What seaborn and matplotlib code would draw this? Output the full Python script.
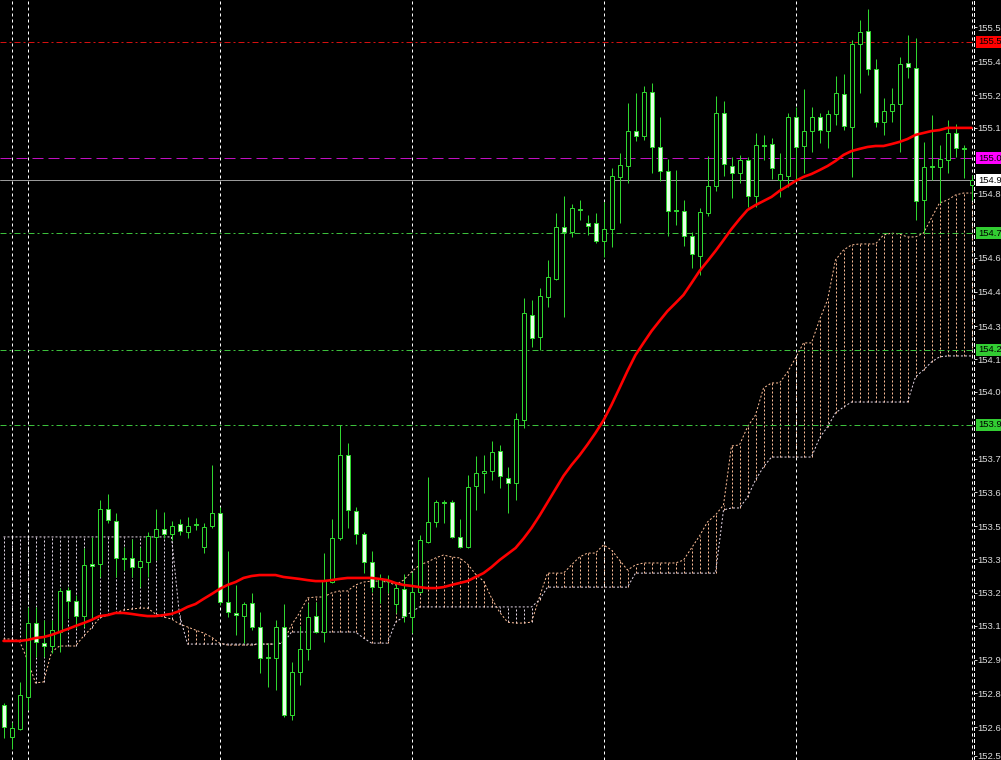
import numpy as np
import pandas as pd
import matplotlib
matplotlib.use("Agg")
import matplotlib.pyplot as plt
import matplotlib.transforms as mtransforms
import seaborn as sns

# ------------------------------------------------------------
# prices, one value per bar, left to right
# ------------------------------------------------------------
opens = [
    152.760, 152.628, 152.661, 152.794, 153.100, 153.017, 153.005, 153.063, 153.237, 153.191,
    153.129, 153.345, 153.345, 153.573, 153.523, 153.370, 153.370, 153.332, 153.353, 153.457,
    153.490, 153.469, 153.511, 153.477, 153.511, 153.415, 153.502, 153.556, 153.187, 153.142,
    153.129, 153.183, 153.084, 152.959, 152.955, 153.084, 152.719, 152.897, 152.993, 153.129,
    153.063, 153.270, 153.453, 153.796, 153.564, 153.469, 153.353, 153.249, 153.278, 153.179,
    153.241, 153.125, 153.229, 153.436, 153.519, 153.602, 153.602, 153.457, 153.415, 153.668,
    153.722, 153.730, 153.813, 153.701, 153.681, 153.942, 154.377, 154.285, 154.451, 154.526,
    154.741, 154.721, 154.816, 154.758, 154.758, 154.683, 154.733, 154.949, 154.994, 155.139,
    155.118, 155.301, 155.073, 154.973, 154.812, 154.808, 154.704, 154.621, 154.799, 154.911,
    155.214, 154.994, 154.965, 155.019, 154.870, 155.081, 155.085, 154.936, 154.953, 155.197,
    155.077, 155.139, 155.197, 155.139, 155.210, 155.292, 155.156, 155.500, 155.554, 155.396,
    155.176, 155.222, 155.251, 155.421, 155.400, 154.853, 154.994, 154.990, 155.019, 155.131,
    155.069, 154.915,
]
highs = [
    152.769, 152.690, 152.856, 153.167, 153.167, 153.113, 153.113, 153.245, 153.249, 153.216,
    153.411, 153.457, 153.610, 153.635, 153.556, 153.415, 153.448, 153.415, 153.477, 153.573,
    153.560, 153.523, 153.531, 153.540, 153.535, 153.515, 153.755, 153.581, 153.399, 153.258,
    153.187, 153.225, 153.146, 153.017, 153.113, 153.179, 152.939, 153.088, 153.183, 153.187,
    153.390, 153.531, 153.921, 153.846, 153.581, 153.477, 153.399, 153.303, 153.299, 153.266,
    153.303, 153.312, 153.465, 153.705, 153.610, 153.610, 153.610, 153.531, 153.714, 153.792,
    153.796, 153.854, 153.838, 153.747, 153.971, 154.447, 154.439, 154.489, 154.605, 154.799,
    154.870, 154.837, 154.853, 154.791, 154.799, 154.845, 154.986, 155.048, 155.255, 155.297,
    155.326, 155.338, 155.197, 155.023, 154.977, 154.853, 154.721, 154.820, 155.036, 155.284,
    155.263, 155.031, 155.040, 155.031, 155.131, 155.123, 155.110, 155.048, 155.214, 155.239,
    155.313, 155.239, 155.214, 155.226, 155.367, 155.375, 155.516, 155.599, 155.645, 155.438,
    155.276, 155.317, 155.446, 155.537, 155.525, 155.094, 155.205, 155.081, 155.185, 155.168,
    155.081, 154.957,
]
lows = [
    152.624, 152.578, 152.657, 152.740, 152.959, 152.959, 152.976, 152.980, 153.121, 153.080,
    153.084, 153.121, 153.291, 153.515, 153.291, 153.320, 153.291, 153.249, 153.291, 153.361,
    153.453, 153.444, 153.465, 153.453, 153.486, 153.390, 153.494, 153.175, 153.125, 153.051,
    153.017, 153.071, 152.893, 152.835, 152.823, 152.711, 152.698, 152.843, 152.947, 153.059,
    153.022, 153.266, 153.444, 153.494, 153.428, 153.307, 153.229, 153.183, 153.225, 153.142,
    153.104, 153.059, 153.225, 153.432, 153.498, 153.515, 153.453, 153.411, 153.411, 153.569,
    153.639, 153.693, 153.660, 153.556, 153.610, 153.908, 154.244, 154.232, 154.410, 154.522,
    154.368, 154.700, 154.770, 154.708, 154.675, 154.617, 154.658, 154.758, 154.924, 155.098,
    155.102, 154.965, 154.932, 154.704, 154.750, 154.663, 154.571, 154.542, 154.787, 154.891,
    154.953, 154.861, 154.924, 154.824, 154.824, 155.019, 154.940, 154.866, 154.907, 154.928,
    154.965, 155.052, 155.089, 155.069, 155.164, 155.143, 154.949, 155.297, 155.371, 155.156,
    155.123, 155.176, 155.052, 155.359, 154.770, 154.716, 154.936, 154.841, 154.965, 155.031,
    154.944, 154.853,
]
closes = [
    152.669, 152.665, 152.802, 153.100, 153.022, 153.005, 153.071, 153.233, 153.191, 153.129,
    153.341, 153.337, 153.573, 153.527, 153.370, 153.366, 153.332, 153.357, 153.461, 153.490,
    153.469, 153.502, 153.482, 153.502, 153.506, 153.498, 153.556, 153.187, 153.146, 153.133,
    153.179, 153.084, 152.955, 152.955, 153.084, 152.719, 152.897, 152.993, 153.125, 153.063,
    153.274, 153.453, 153.796, 153.569, 153.469, 153.353, 153.249, 153.287, 153.274, 153.245,
    153.129, 153.229, 153.444, 153.519, 153.602, 153.598, 153.457, 153.415, 153.664, 153.722,
    153.730, 153.809, 153.709, 153.681, 153.946, 154.385, 154.281, 154.455, 154.534, 154.741,
    154.721, 154.820, 154.812, 154.745, 154.683, 154.733, 154.953, 154.998, 155.139, 155.118,
    155.301, 155.073, 154.973, 154.808, 154.808, 154.704, 154.629, 154.803, 154.911, 155.214,
    155.002, 154.965, 155.019, 154.870, 155.081, 155.077, 154.986, 154.961, 155.197, 155.073,
    155.139, 155.197, 155.143, 155.210, 155.297, 155.160, 155.500, 155.549, 155.396, 155.176,
    155.222, 155.251, 155.417, 155.404, 154.849, 154.990, 154.990, 155.023, 155.131, 155.069,
    155.065, 154.936,
]
# red moving average
ma_line = [
    153.026, 153.026, 153.026, 153.030, 153.038, 153.042, 153.051, 153.063, 153.075, 153.088,
    153.100, 153.113, 153.129, 153.133, 153.142, 153.142, 153.138, 153.133, 153.129, 153.129,
    153.133, 153.138, 153.150, 153.167, 153.179, 153.200, 153.220, 153.241, 153.258, 153.270,
    153.287, 153.295, 153.299, 153.299, 153.299, 153.291, 153.287, 153.283, 153.278, 153.274,
    153.274, 153.278, 153.283, 153.287, 153.287, 153.287, 153.287, 153.283, 153.278, 153.266,
    153.258, 153.254, 153.249, 153.245, 153.245, 153.249, 153.258, 153.266, 153.274, 153.291,
    153.307, 153.332, 153.361, 153.386, 153.411, 153.450, 153.494, 153.545, 153.600, 153.655,
    153.710, 153.755, 153.795, 153.840, 153.888, 153.940, 154.004, 154.074, 154.145, 154.211,
    154.261, 154.310, 154.352, 154.393, 154.426, 154.460, 154.509, 154.559, 154.600, 154.642,
    154.687, 154.733, 154.774, 154.812, 154.832, 154.849, 154.866, 154.891, 154.911, 154.932,
    154.949, 154.961, 154.977, 154.994, 155.015, 155.040, 155.056, 155.065, 155.073, 155.077,
    155.077, 155.085, 155.094, 155.106, 155.123, 155.131, 155.139, 155.143, 155.152, 155.152,
    155.152, 155.152,
]
# ichimoku cloud edges
span_a = [
    153.034, 153.034, 153.026, 152.947, 152.852, 152.856, 152.980, 153.005, 153.005, 153.005,
    153.046, 153.080, 153.121, 153.133, 153.142, 153.154, 153.158, 153.162, 153.162, 153.138,
    153.125, 153.117, 153.096, 153.084, 153.071, 153.059, 153.042, 153.017, 153.009, 153.009,
    153.009, 153.009, 153.013, 153.013, 153.013, 153.022, 153.092, 153.142, 153.204, 153.208,
    153.208, 153.225, 153.233, 153.233, 153.258, 153.270, 153.274, 153.274, 153.270, 153.258,
    153.278, 153.312, 153.341, 153.353, 153.370, 153.382, 153.374, 153.370, 153.345, 153.303,
    153.274, 153.204, 153.146, 153.104, 153.100, 153.100, 153.104, 153.208, 153.307, 153.307,
    153.307, 153.341, 153.374, 153.390, 153.390, 153.424, 153.403, 153.361, 153.320, 153.341,
    153.349, 153.349, 153.349, 153.349, 153.349, 153.361, 153.411, 153.461, 153.519, 153.548,
    153.589, 153.834, 153.838, 153.913, 153.962, 154.074, 154.095, 154.095, 154.140, 154.198,
    154.261, 154.261, 154.356, 154.439, 154.605, 154.646, 154.667, 154.671, 154.671, 154.671,
    154.708, 154.716, 154.712, 154.700, 154.700, 154.716, 154.779, 154.841, 154.853, 154.874,
    154.882, 154.882,
]
span_b = [
    153.457, 153.457, 153.457, 153.457, 153.457, 153.457, 153.457, 153.457, 153.457, 153.457,
    153.457, 153.457, 153.457, 153.457, 153.457, 153.457, 153.457, 153.457, 153.457, 153.457,
    153.457, 153.457, 153.133, 153.013, 153.013, 153.013, 153.013, 153.013, 153.013, 153.013,
    153.013, 153.013, 153.013, 153.013, 153.013, 153.017, 153.063, 153.063, 153.063, 153.063,
    153.063, 153.063, 153.063, 153.063, 153.063, 153.038, 153.017, 153.017, 153.017, 153.104,
    153.125, 153.146, 153.167, 153.167, 153.167, 153.167, 153.167, 153.167, 153.167, 153.167,
    153.167, 153.167, 153.167, 153.167, 153.167, 153.167, 153.167, 153.196, 153.249, 153.249,
    153.249, 153.249, 153.249, 153.249, 153.249, 153.249, 153.249, 153.249, 153.249, 153.307,
    153.307, 153.307, 153.307, 153.307, 153.307, 153.307, 153.307, 153.307, 153.307, 153.307,
    153.569, 153.577, 153.577, 153.622, 153.693, 153.747, 153.788, 153.788, 153.788, 153.788,
    153.788, 153.788, 153.867, 153.913, 153.971, 153.995, 154.016, 154.016, 154.016, 154.016,
    154.016, 154.016, 154.016, 154.016, 154.120, 154.149, 154.182, 154.203, 154.207, 154.207,
    154.207, 154.207,
]

# right-hand price scale (the window edge cuts the last digits)
tick_prices = [155.570, 155.429, 155.288, 155.152, 154.882, 154.613, 154.472, 154.331, 154.194, 154.058,
               153.780, 153.643, 153.502, 153.365, 153.225, 153.088, 152.947, 152.810, 152.669, 152.550]
tick_labels = ["155.5", "155.4", "155.2", "155.1", "154.8", "154.6", "154.4", "154.3", "154.1", "154.0",
               "153.7", "153.6", "153.5", "153.3", "153.2", "153.1", "152.9", "152.8", "152.6", "152.5"]

# horizontal price levels
level_prices = [155.508, 155.027, 154.936, 154.716, 154.232, 153.921]
level_labels = ["155.5", "155.0", "154.9", "154.7", "154.2", "153.9"]

# vertical separators, as bar numbers
separator_bars = [1, 3, 27, 51, 75, 99, 121]

df = pd.DataFrame({"open": opens, "high": highs, "low": lows, "close": closes,
                   "ma": ma_line, "span_a": span_a, "span_b": span_b})
df["bar"] = np.arange(len(df))

# ------------------------------------------------------------
# style
# ------------------------------------------------------------
sns.set_style("dark", {"axes.facecolor": "black", "figure.facecolor": "black"})
plt.rcParams["font.family"] = ["Liberation Sans", "DejaVu Sans"]
plt.rcParams["lines.scale_dashes"] = False

px = 0.72  # one screen pixel in points at dpi 100
green = "#2fd62f"
bear_fill = "#e8ffe8"
sandy = "#ffbf98"
thistle = "#e4d6e6"
dots = (0, (2 * px, 2 * px))
dash_dot = (0, (6 * px, 3 * px, 2 * px, 3 * px))

fig = plt.figure(figsize=(10.01, 7.60), dpi=100)
ax = fig.add_axes([0, 0, 974 / 1001, 1])
ax.set_facecolor("black")
ax.grid(False)

# ---- cloud: dotted hatching bar by bar, plus both edges ----
up_cloud = df.span_a >= df.span_b
ax.vlines(df.bar[up_cloud], df.span_b[up_cloud], df.span_a[up_cloud],
          colors=sandy, lw=px, linestyles=dots, zorder=1)
ax.vlines(df.bar[~up_cloud], df.span_a[~up_cloud], df.span_b[~up_cloud],
          colors=thistle, lw=px, linestyles=dots, zorder=1)
sns.lineplot(data=df, x="bar", y="span_a", color=sandy, lw=px, linestyle=dots,
             ax=ax, legend=False, zorder=1)
sns.lineplot(data=df, x="bar", y="span_b", color=thistle, lw=px, linestyle=dots,
             ax=ax, legend=False, zorder=1)

# ---- separators ----
for b in separator_bars:
    ax.axvline(b, color="white", lw=px, ls=(0, (3 * px, 3 * px)), zorder=1.5)

# ---- levels ----
line_cols = ["#d41010", "#c010c0", "#9a9a9a", "#3cc03c", "#3cc03c", "#3cc03c"]
box_cols = ["#ff0000", "#ff00ff", "#ffffff", "#32cd32", "#32cd32", "#32cd32"]
styles = [dash_dot, (0, (11 * px, 5 * px)), "-", dash_dot, dash_dot, dash_dot]
for p, c, s in zip(level_prices, line_cols, styles):
    ax.axhline(p, color=c, lw=px, ls=s, zorder=2)

# ---- candles ----
bull = df.close >= df.open
ax.vlines(df.bar, df.low, df.high, colors=green, lw=px, zorder=3)
body_lo = np.minimum(df.open, df.close)
body_h = np.maximum((df.close - df.open).abs(), 0.002)
ax.bar(df.bar[bull], body_h[bull], bottom=body_lo[bull], width=0.5,
       color="black", edgecolor=green, linewidth=px, zorder=3.5)
ax.bar(df.bar[~bull], body_h[~bull], bottom=body_lo[~bull], width=0.5,
       color=bear_fill, edgecolor=green, linewidth=px, zorder=3.5)

# ---- moving average ----
sns.lineplot(data=df, x="bar", y="ma", color="#ff0000", lw=1.9, ax=ax,
             legend=False, zorder=4)

# ---- axes ----
ax.set_xlim(-0.4375, 121.3125)
ax.set_ylim(152.5326, 155.682)
ax.set_xlabel("")
ax.set_ylabel("")
ax.set_xticks([])
ax.yaxis.tick_right()
ax.set_yticks(tick_prices, tick_labels)
ax.tick_params(axis="y", colors="#c8c8c8", labelcolor="#dcdcdc", length=2,
               width=px, pad=0.6, labelsize=6.8, direction="out", right=True, left=False)
for side in ["left", "top", "bottom"]:
    ax.spines[side].set_visible(False)
ax.spines["right"].set_color("white")
ax.spines["right"].set_linewidth(px)
ax.spines["right"].set_linestyle((0, (3 * px, 3 * px)))

# coloured price boxes on the scale
trans = mtransforms.blended_transform_factory(ax.transAxes, ax.transData)
for p, lab, bc in zip(level_prices, level_labels, box_cols):
    ax.text(978 / 974, p, lab, transform=trans, ha="left", va="center",
            fontsize=6.8, color="black", clip_on=False, zorder=10,
            bbox=dict(boxstyle="square,pad=0.2", fc=bc, ec="none"))

fig.savefig("out.png", dpi=100, facecolor="black")
